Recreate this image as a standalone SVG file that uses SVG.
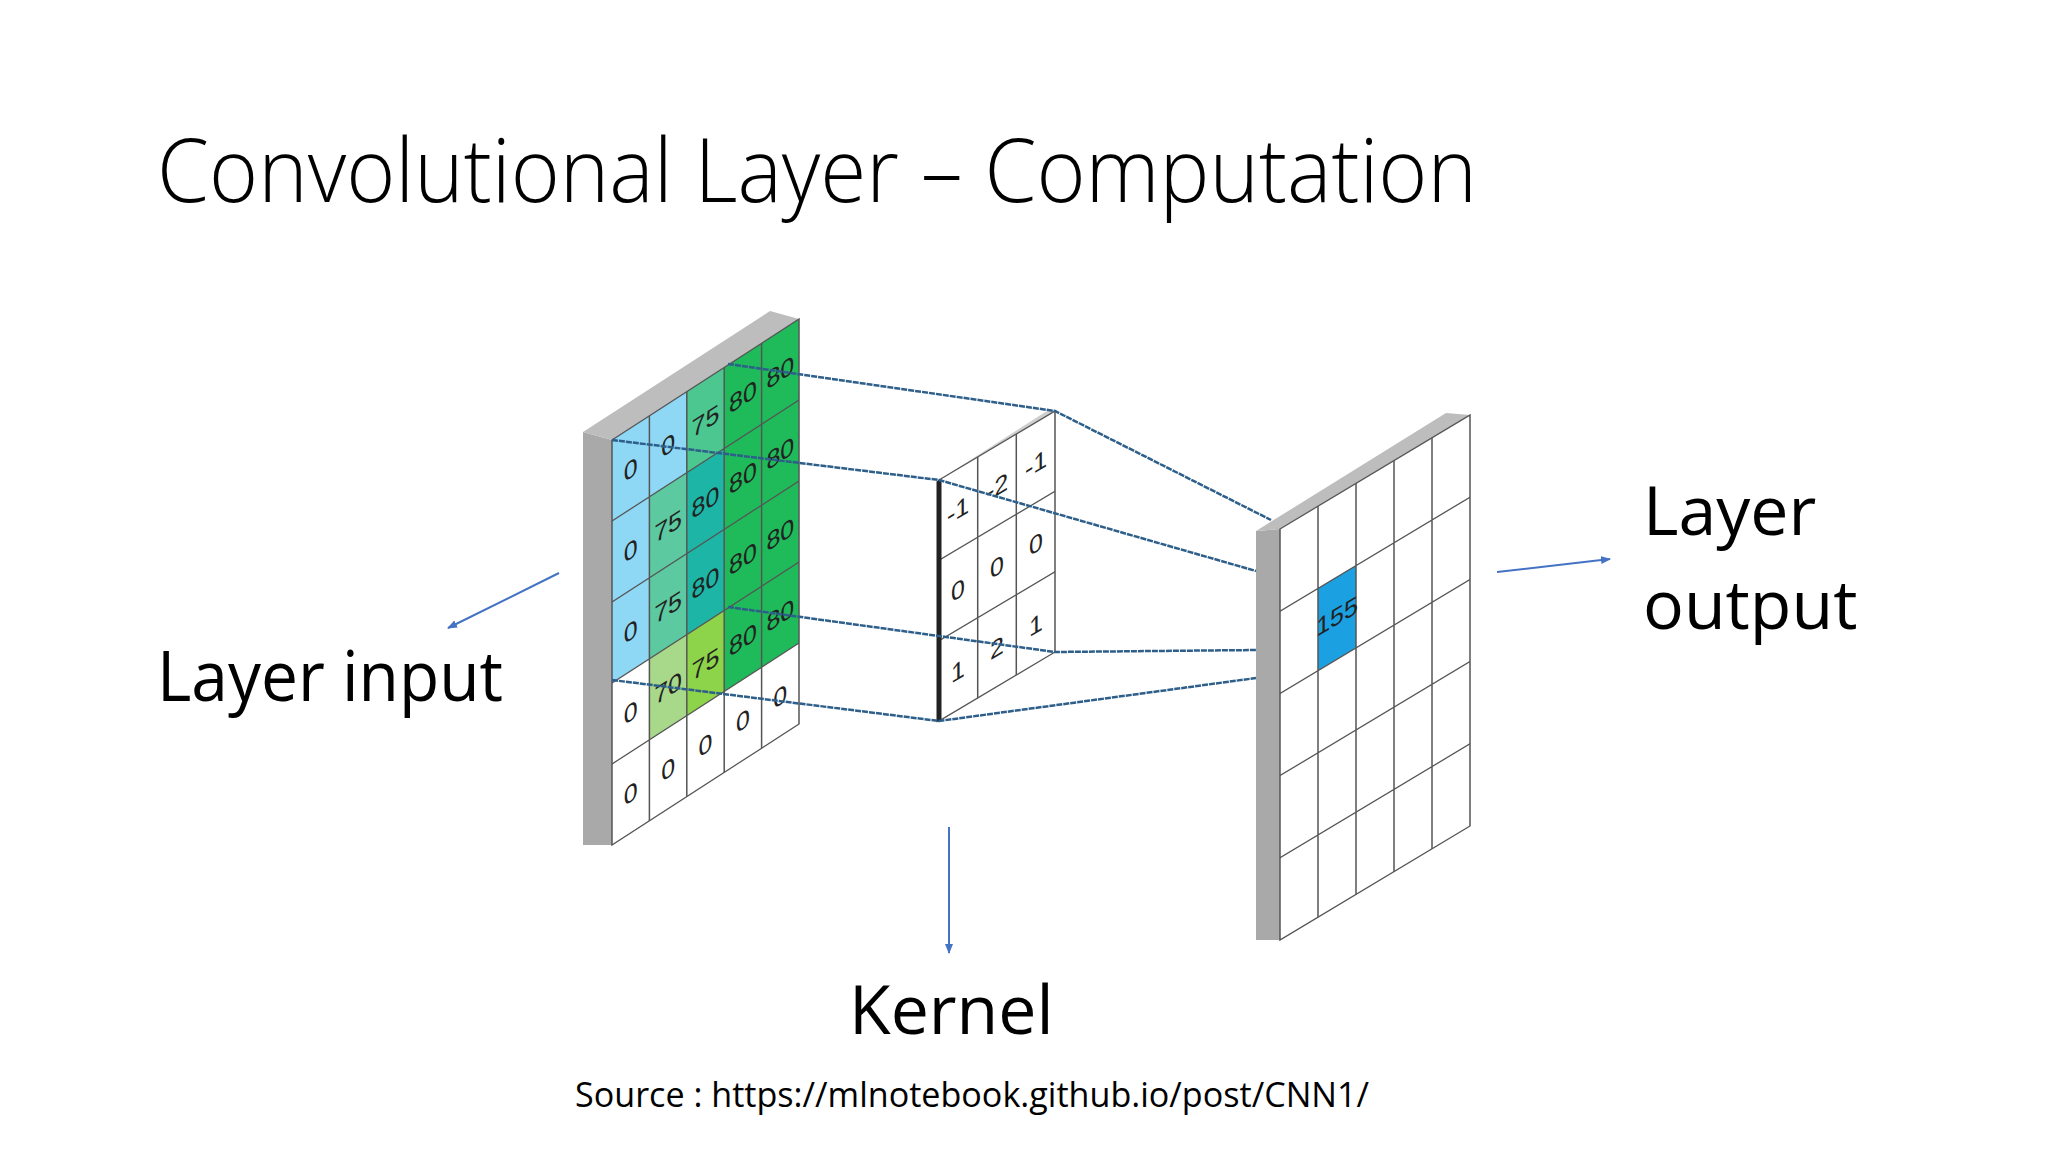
<svg xmlns="http://www.w3.org/2000/svg" width="2048" height="1152" viewBox="0 0 2048 1152">
<style>
.t{font-family:"Open Sans","Liberation Sans",sans-serif;fill:#000}
.c{stroke:#555;stroke-width:1.5}
.n{font-family:"Liberation Sans",sans-serif;font-size:25px;text-anchor:middle;fill:#222}
.cn{stroke:#2e5f8a;stroke-width:2.5;stroke-dasharray:6 1;fill:none}
.ar{stroke:#4472c4;stroke-width:2;marker-end:url(#ah)}
</style>
<defs><marker id="ah" markerWidth="10" markerHeight="8" refX="9" refY="4" orient="auto" markerUnits="userSpaceOnUse"><path d="M0,0L10,4L0,8z" fill="#4472c4"/></marker></defs>
<rect width="2048" height="1152" fill="#fff"/>
<text class="t" x="157" y="202" font-size="88" font-weight="300" textLength="1320" lengthAdjust="spacingAndGlyphs">Convolutional Layer – Computation</text>
<g id="input">
<polygon points="583,432 612,440 612,845 583,845" fill="#a9a9a9"/>
<polygon points="583,432 770,311 799,319 612,440" fill="#bdbdbd"/>
<g transform="matrix(1,-0.647,0,1,612,440)">
<rect x="0" y="0" width="37.4" height="243" fill="#8fd8f5"/>
<rect x="37.4" y="0" width="37.4" height="81" fill="#8fd8f5"/>
<rect x="37.4" y="81" width="37.4" height="162" fill="#5cc9a0"/>
<rect x="37.4" y="243" width="37.4" height="81" fill="#a8d88a"/>
<rect x="74.8" y="0" width="37.4" height="81" fill="#4cc790"/>
<rect x="74.8" y="81" width="37.4" height="162" fill="#1db5a5"/>
<rect x="74.8" y="243" width="37.4" height="81" fill="#8ed44a"/>
<rect x="112.2" y="0" width="74.8" height="324" fill="#1fba5a"/>
<rect x="0" y="243" width="37.4" height="81" fill="#fff"/>
<rect x="0" y="324" width="187" height="81" fill="#fff"/>
<g class="c" fill="none">
<rect x="0" y="0" width="187" height="405"/>
<path d="M37.4,0V405M74.8,0V405M112.2,0V405M149.6,0V405M0,81H187M0,162H187M0,243H187M0,324H187"/>
</g>
<g class="n">
<text x="18.7" y="50">0</text><text x="56.1" y="50">0</text><text x="93.5" y="50">75</text><text x="130.9" y="50">80</text><text x="168.3" y="50">80</text>
<text x="18.7" y="131">0</text><text x="56.1" y="131">75</text><text x="93.5" y="131">80</text><text x="130.9" y="131">80</text><text x="168.3" y="131">80</text>
<text x="18.7" y="212">0</text><text x="56.1" y="212">75</text><text x="93.5" y="212">80</text><text x="130.9" y="212">80</text><text x="168.3" y="212">80</text>
<text x="18.7" y="293">0</text><text x="56.1" y="293">70</text><text x="93.5" y="293">75</text><text x="130.9" y="293">80</text><text x="168.3" y="293">80</text>
<text x="18.7" y="374">0</text><text x="56.1" y="374">0</text><text x="93.5" y="374">0</text><text x="130.9" y="374">0</text><text x="168.3" y="374">0</text>
</g>
</g>
</g>
<g id="kernel">
<polygon points="939,480 1050,409 1055,411 944,482" fill="#cfcfcf"/>
<g transform="matrix(1,-0.595,0,1,939,480)">
<rect x="0" y="0" width="116" height="241" fill="#fff"/>
<g class="c" fill="none"><rect x="0" y="0" width="116" height="241"/><path d="M38.7,0V241M77.3,0V241M0,80.3H116M0,160.7H116"/></g>
<path d="M0,0V241" stroke="#222" stroke-width="5"/>
<g class="n" font-size="26">
<text x="19" y="50">-1</text><text x="58" y="50">-2</text><text x="97" y="50">-1</text>
<text x="19" y="130">0</text><text x="58" y="130">0</text><text x="97" y="130">0</text>
<text x="19" y="211">1</text><text x="58" y="211">2</text><text x="97" y="211">1</text>
</g>
</g>
</g>
<g id="output">
<polygon points="1256,531 1280,529 1280,940 1256,940" fill="#a9a9a9"/>
<polygon points="1256,531 1446,413 1470,415 1280,529" fill="#bdbdbd"/>
<g transform="matrix(1,-0.6,0,1,1280,529)">
<rect x="0" y="0" width="190" height="411" fill="#fff"/>
<rect x="38" y="82.2" width="38" height="82.2" fill="#1ba1e2"/>
<g class="c" fill="none" stroke="#777"><rect x="0" y="0" width="190" height="411"/><path d="M38,0V411M76,0V411M114,0V411M152,0V411M0,82.2H190M0,164.4H190M0,246.6H190M0,328.8H190"/></g>
<text class="n" x="57" y="130" font-size="16">155</text>
</g>
</g>
<g id="connectors">
<path class="cn" d="M728,364L1055,411L1271,520"/>
<path class="cn" d="M612,440L939,480L1256,571"/>
<path class="cn" d="M728,607L1055,652L1256,650"/>
<path class="cn" d="M612,680L939,721L1256,678"/>
<path class="ar" d="M559,573L448,628"/>
<path class="ar" d="M949,827V953"/>
<path class="ar" d="M1497,572L1610,559"/>
</g>
<text class="t" x="157" y="701" font-size="70" textLength="346" lengthAdjust="spacingAndGlyphs">Layer input</text>
<text class="t" x="1643" y="535" font-size="68">Layer</text>
<text class="t" x="1643" y="629" font-size="68">output</text>
<text class="t" x="849" y="1034" font-size="68">Kernel</text>
<text class="t" x="575" y="1107" font-size="35" textLength="794" lengthAdjust="spacingAndGlyphs">Source : https://mlnotebook.github.io/post/CNN1/</text>
</svg>
